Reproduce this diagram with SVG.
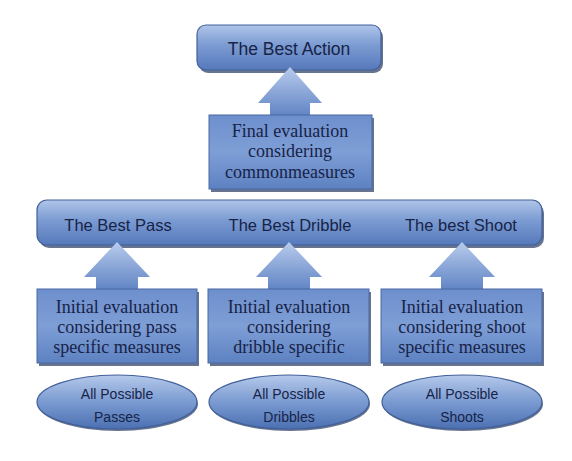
<svg xmlns="http://www.w3.org/2000/svg" width="572" height="461" viewBox="0 0 572 461">
<defs>
<linearGradient id="gBar" x1="0" y1="0" x2="0" y2="1">
<stop offset="0" stop-color="#b0c5e9"/>
<stop offset="0.45" stop-color="#7b9bd2"/>
<stop offset="1" stop-color="#5679bb"/>
</linearGradient>
<linearGradient id="gBox" x1="0" y1="0" x2="0" y2="1">
<stop offset="0" stop-color="#6d8fcc"/>
<stop offset="0.5" stop-color="#7e9ed6"/>
<stop offset="1" stop-color="#5d81c1"/>
</linearGradient>
<linearGradient id="gOval" x1="0" y1="0" x2="0" y2="1">
<stop offset="0" stop-color="#b5c9ea"/>
<stop offset="0.5" stop-color="#7a9ad1"/>
<stop offset="1" stop-color="#4b70b2"/>
</linearGradient>
<linearGradient id="gArrow" x1="0" y1="0" x2="0" y2="1">
<stop offset="0" stop-color="#b8cbec"/>
<stop offset="1" stop-color="#6084c4"/>
</linearGradient>
</defs>
<style>
.shadow{fill:#34456a;opacity:0.75}
.bar{fill:url(#gBar);stroke:#41609a;stroke-width:1.2}
.box{fill:url(#gBox);stroke:#4a69a3;stroke-width:1}
.oval{fill:url(#gOval);stroke:#41609a;stroke-width:1.2}
.arrow{fill:url(#gArrow);stroke:none}
.sans{font-family:"Liberation Sans",Arial,sans-serif;fill:#172347;text-anchor:middle}
.serif{font-family:"Liberation Serif","Times New Roman",serif;font-size:18px;fill:#172347;text-anchor:middle}
</style>
<rect width="572" height="461" fill="#ffffff"/>

<g id="best-action">
<rect class="shadow" x="199" y="28" width="184" height="45" rx="9"/>
<rect class="bar" x="197" y="25" width="184" height="45" rx="9"/>
<text class="sans" x="289" y="55" font-size="17.5">The Best Action</text>
</g>

<g id="best-row">
<rect class="shadow" x="39" y="203" width="505" height="45" rx="10"/>
<rect class="bar" x="37" y="200" width="505" height="45" rx="10"/>
<text class="sans" x="118" y="231" font-size="16.5">The Best Pass</text>
<text class="sans" x="290" y="231" font-size="16.5">The Best Dribble</text>
<text class="sans" x="461" y="231" font-size="16.5">The best Shoot</text>
</g>

<g id="connectors">
<path class="arrow" d="M290,67 L322,103 L310,103 L310,116 L270,116 L270,103 L258,103 Z"/>
<path class="arrow" d="M117,242 L150,277 L138,277 L138,290 L96,290 L96,277 L84,277 Z"/>
<path class="arrow" d="M289,242 L322,277 L310,277 L310,290 L268,290 L268,277 L256,277 Z"/>
<path class="arrow" d="M462,242 L495,277 L483,277 L483,290 L441,290 L441,277 L429,277 Z"/>
</g>

<g id="final-eval">
<rect class="shadow" x="211" y="118" width="163" height="74"/>
<rect class="box" x="209" y="115" width="163" height="74"/>
<text class="serif" x="290" y="137">Final evaluation</text>
<text class="serif" x="290" y="157">considering</text>
<text class="serif" x="290" y="178">commonmeasures</text>
</g>

<g id="eval-pass">
<rect class="shadow" x="39" y="292" width="160" height="74"/>
<rect class="box" x="37" y="289" width="160" height="74"/>
<text class="serif" x="117" y="313">Initial evaluation</text>
<text class="serif" x="117" y="333">considering pass</text>
<text class="serif" x="117" y="353">specific measures</text>
</g>

<g id="eval-dribble">
<rect class="shadow" x="210" y="292" width="161" height="74"/>
<rect class="box" x="208" y="289" width="161" height="74"/>
<text class="serif" x="289" y="313">Initial evaluation</text>
<text class="serif" x="289" y="333">considering</text>
<text class="serif" x="289" y="353">dribble specific</text>
</g>

<g id="eval-shoot">
<rect class="shadow" x="383" y="292" width="161" height="74"/>
<rect class="box" x="381" y="289" width="161" height="74"/>
<text class="serif" x="462" y="313">Initial evaluation</text>
<text class="serif" x="462" y="333">considering shoot</text>
<text class="serif" x="462" y="353">specific measures</text>
</g>

<g id="all-passes">
<ellipse class="shadow" cx="118" cy="404" rx="80" ry="27"/>
<ellipse class="oval" cx="117" cy="402" rx="80" ry="27"/>
<text class="sans" x="117" y="399" font-size="14">All Possible</text>
<text class="sans" x="117" y="422" font-size="14">Passes</text>
</g>

<g id="all-dribbles">
<ellipse class="shadow" cx="290" cy="404" rx="80" ry="27"/>
<ellipse class="oval" cx="289" cy="402" rx="80" ry="27"/>
<text class="sans" x="289" y="399" font-size="14">All Possible</text>
<text class="sans" x="289" y="422" font-size="14">Dribbles</text>
</g>

<g id="all-shoots">
<ellipse class="shadow" cx="463" cy="404" rx="80" ry="27"/>
<ellipse class="oval" cx="462" cy="402" rx="80" ry="27"/>
<text class="sans" x="462" y="399" font-size="14">All Possible</text>
<text class="sans" x="462" y="422" font-size="14">Shoots</text>
</g>
</svg>
